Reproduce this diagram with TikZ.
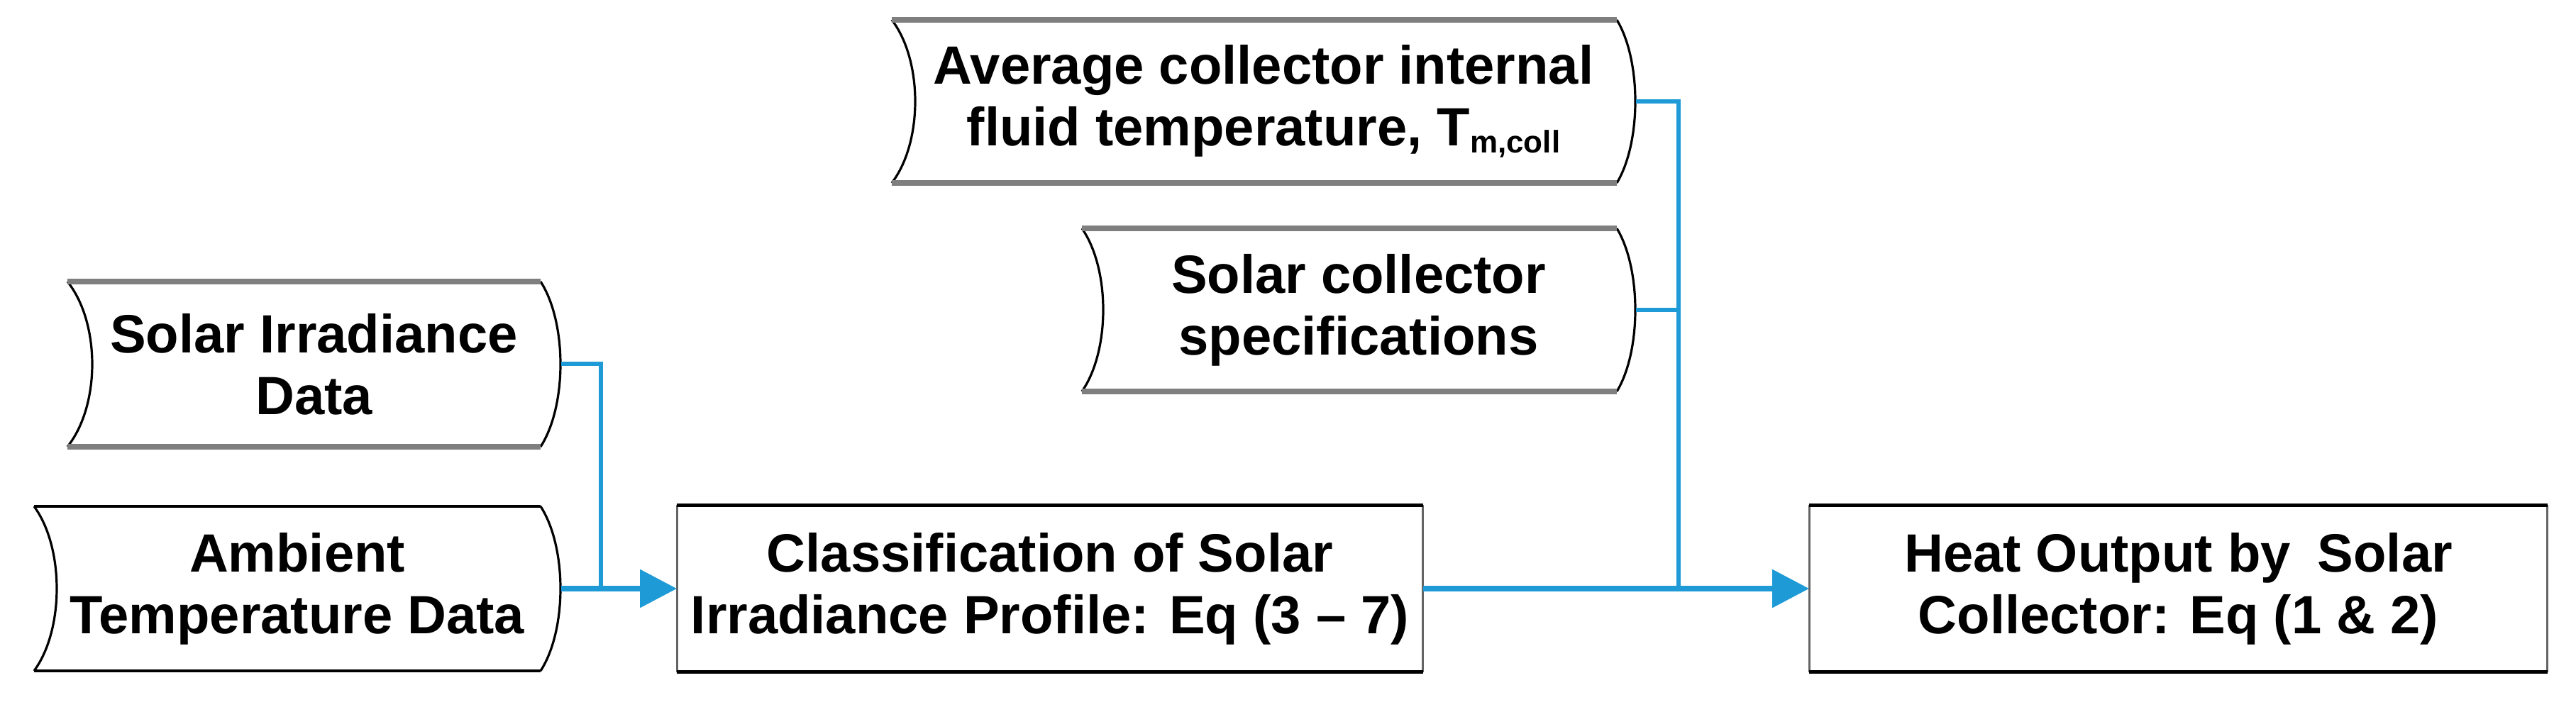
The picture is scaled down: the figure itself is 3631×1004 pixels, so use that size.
\documentclass[tikz,border=0pt]{standalone}
\usepackage{fontspec}
\setmainfont{Liberation Sans}
\usetikzlibrary{arrows.meta}
\definecolor{flowblue}{RGB}{30,155,215}
\definecolor{edgegray}{RGB}{127,127,127}
\definecolor{sidegrey}{RGB}{100,100,100}
\newcommand\sdshape[7]{%
  \draw[curve] (#1,#5) .. controls ({#1+1.333*(#2-#1)},{#5+0.25*(#6-#5)}) and ({#1+1.333*(#2-#1)},{#6-0.25*(#6-#5)}) .. (#1,#6);
  \draw[curve] (#3,#5) .. controls ({#3+1.333*(#4-#3)},{#5+0.25*(#6-#5)}) and ({#3+1.333*(#4-#3)},{#6-0.25*(#6-#5)}) .. (#3,#6);
  \draw[#7] (#1,#5) -- (#3,#5);
  \draw[#7] (#1,#6) -- (#3,#6);
}
\begin{document}
\begin{tikzpicture}[x=0.25pt,y=-0.25pt,
  lbl/.style={font=\fontsize{19}{21.7}\selectfont\bfseries, align=center, inner sep=0pt},
  curve/.style={draw=black, line width=0.8pt},
  capgray/.style={draw=edgegray, line width=2.2pt},
  capblack/.style={draw=black, line width=1pt},
  rectcap/.style={draw=black, line width=1.3pt},
  rectside/.style={draw=sidegrey, line width=0.8pt},
  link/.style={draw=flowblue, line width=1.5pt},
  mainlink/.style={draw=flowblue, line width=2.2pt, -{Triangle[length=13pt,width=13pt]}},
]
\useasboundingbox[fill=white] (0,0) rectangle (3631,1004);

% stored-data shapes
\sdshape{95}{130}{762}{790}{397}{630}{capgray}
\sdshape{48}{80}{762}{790}{714}{946}{capblack}
\sdshape{1257}{1290}{2279}{2305}{28}{258}{capgray}
\sdshape{1525}{1555}{2279}{2305}{322}{552}{capgray}

\node[lbl, minimum width=173.75pt, minimum height=58.25pt] (si) at (442.5,513.5) {Solar Irradiance\\Data};
\node[lbl, minimum width=185.5pt, minimum height=58pt] (at) at (419,830) {Ambient\\Temperature Data};
\node[lbl, minimum width=262pt, minimum height=57.5pt] (av) at (1781,143) {Average collector internal\\fluid temperature, T{\fontsize{11}{11}\selectfont\raisebox{-2.5pt}{m,coll}}};
\node[lbl, minimum width=195pt, minimum height=57.5pt] (sp) at (1915,437) {Solar collector\\specifications};

% process boxes
\node[lbl, minimum width=262.5pt, minimum height=58.5pt] (cl) at (1480,830) {Classification of Solar\\Irradiance Profile: Eq (3 -- 7)};
\node[lbl, minimum width=259.75pt, minimum height=58.5pt] (ho) at (3070.5,830) {Heat Output by\hspace{0.5em}Solar\\Collector: Eq (1 \& 2)};
\foreach \n in {cl,ho}{
  \draw[rectside] (\n.north west) -- (\n.south west);
  \draw[rectside] (\n.north east) -- (\n.south east);
  \draw[rectcap] (\n.north west) -- (\n.north east);
  \draw[rectcap] (\n.south west) -- (\n.south east);
}

% connectors
\coordinate (j1) at (847,830);
\coordinate (j2) at (2366,830);
\draw[link] (si.east) -| (j1);
\draw[link] (av.east) -| (j2);
\draw[link] (sp.east) -- (sp.east -| j2);
\draw[mainlink] (at.east) -- (cl.west);
\draw[mainlink] (cl.east) -- (ho.west);
\end{tikzpicture}
\end{document}
